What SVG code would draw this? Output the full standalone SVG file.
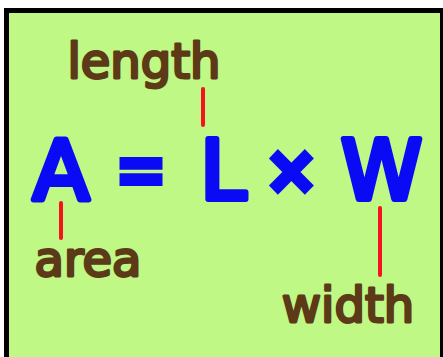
<svg xmlns="http://www.w3.org/2000/svg" width="443" height="357" viewBox="0 0 443 357">
<style>
.big{font-family:"DejaVu Sans",sans-serif;font-weight:normal;font-size:82px;fill:#0a0af5;stroke:#0a0af5;stroke-width:6;stroke-linejoin:round;text-anchor:middle}
.op{font-family:"DejaVu Sans",sans-serif;font-weight:normal;fill:#0a0af5;stroke:#0a0af5;stroke-width:8;stroke-linejoin:miter;text-anchor:middle}
.lbl{font-family:"DejaVu Sans",sans-serif;font-weight:normal;font-size:48px;fill:#5c3917;stroke:#5c3917;stroke-width:2.8;stroke-linejoin:round;text-anchor:middle}
.con{stroke:#f5141e;stroke-width:4;stroke-linecap:round;fill:none}
</style>
<rect x="0" y="0" width="443" height="357" fill="#ffffff"/>
<rect x="6.5" y="10.5" width="436" height="360" fill="#bff884" stroke="#000000" stroke-width="5"/>
<g id="connectors">
<line class="con" x1="203" y1="89" x2="203" y2="125"/>
<line class="con" x1="61" y1="203" x2="61" y2="238"/>
<line class="con" x1="380" y1="208" x2="380" y2="275"/>
</g>
<g id="A"><text class="big" x="61" y="199">A</text></g>
<g id="eq"><text class="big" x="0" y="197" transform="translate(141,0) scale(0.75,1)" style="stroke-linejoin:miter">=</text></g>
<g id="L"><text class="big" x="223" y="199">L</text></g>
<g id="times"><text class="op" x="291.5" y="191" font-size="60">×</text></g>
<g id="W"><text class="big" x="381.5" y="199">W</text></g>
<g id="length"><text class="lbl" x="144" y="78">length</text></g>
<g id="area"><text class="lbl" x="88" y="276">area</text></g>
<g id="width"><text class="lbl" x="348" y="322">width</text></g>
</svg>
